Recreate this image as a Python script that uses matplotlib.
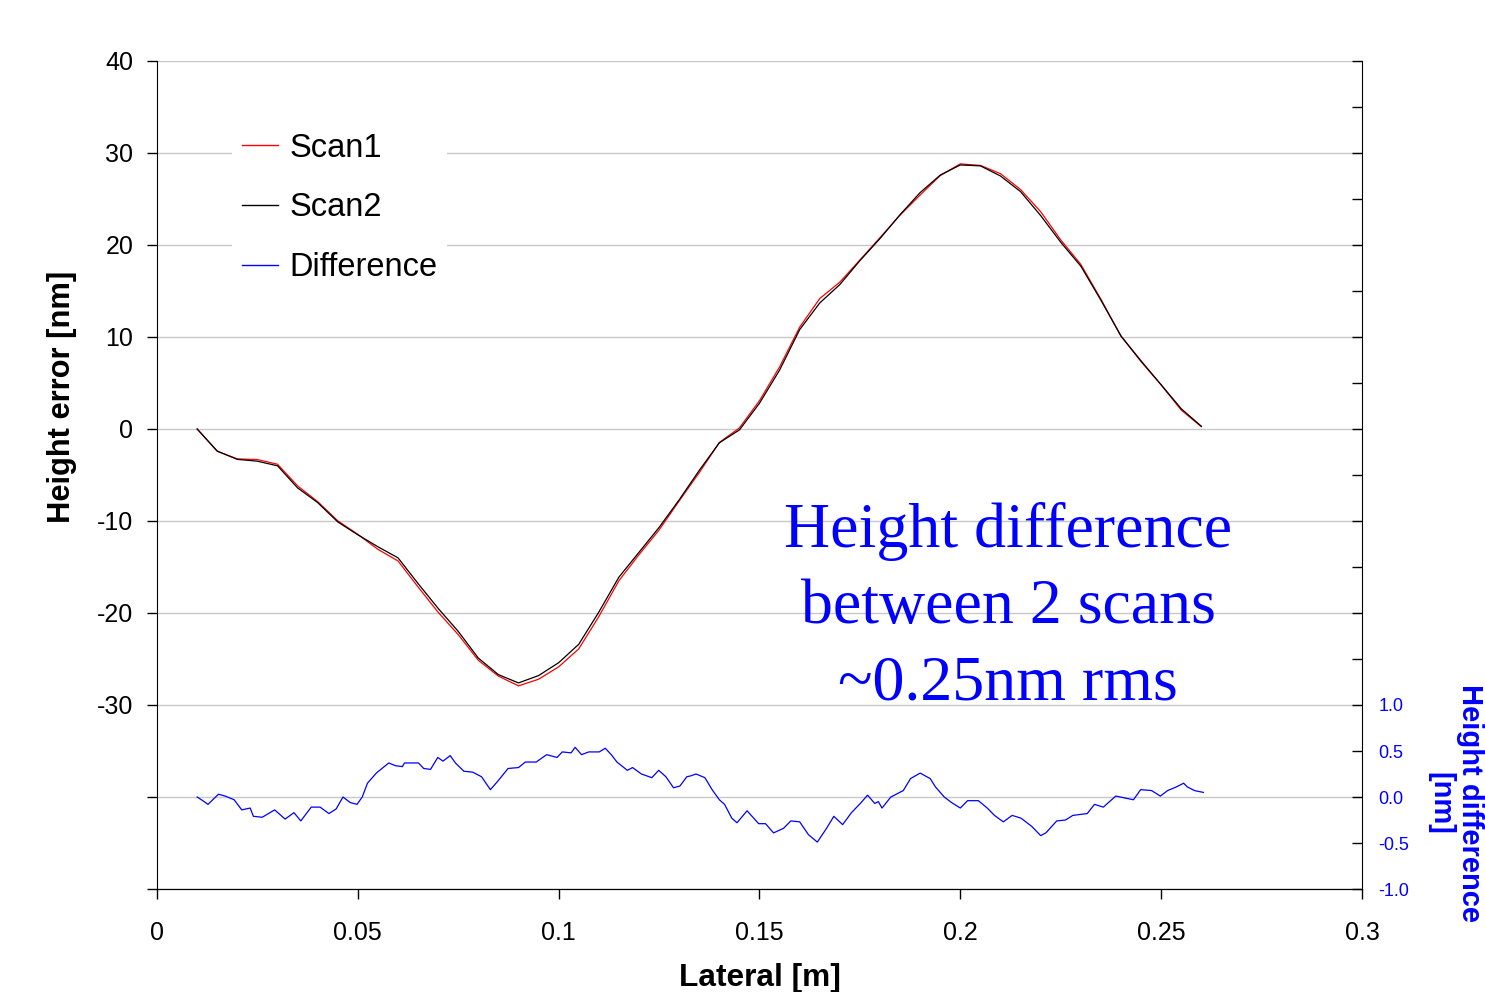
import matplotlib
matplotlib.use("Agg")
import matplotlib.pyplot as plt
import numpy as np

plt.rcParams['font.family'] = ['Liberation Sans', 'DejaVu Sans']

# lateral position [m] for the two scans
lateral = [0.010, 0.015, 0.020, 0.025, 0.030, 0.035, 0.040, 0.045, 0.050, 0.055,
           0.060, 0.065, 0.070, 0.075, 0.080, 0.085, 0.090, 0.095, 0.100, 0.105,
           0.110, 0.115, 0.120, 0.125, 0.130, 0.135, 0.140, 0.145, 0.150, 0.155,
           0.160, 0.165, 0.170, 0.175, 0.180, 0.185, 0.190, 0.195, 0.200, 0.205,
           0.210, 0.215, 0.220, 0.225, 0.230, 0.235, 0.240, 0.245, 0.250, 0.255,
           0.260]

scan1 = [0.0, -2.43, -3.25, -3.32, -3.83, -6.18, -7.89, -9.98, -11.45, -13.08,
         -14.34, -17.17, -19.92, -22.35, -25.14, -26.86, -27.92, -27.20, -25.85, -23.90,
         -20.39, -16.49, -13.66, -10.98, -7.82, -4.74, -1.47, 0.12, 3.08, 6.75,
         11.07, 14.18, 15.96, 18.37, 20.80, 23.25, 25.44, 27.55, 28.82, 28.65,
         27.75, 26.03, 23.62, 20.55, 17.89, 14.10, 10.10, 7.32, 4.79, 2.06,
         0.25]

scan2 = [0.0, -2.4, -3.3, -3.5, -4.0, -6.4, -8.0, -10.1, -11.5, -12.8,
         -14.0, -16.8, -19.5, -22.0, -24.9, -26.7, -27.6, -26.8, -25.4, -23.4,
         -19.9, -16.1, -13.4, -10.7, -7.7, -4.5, -1.5, -0.1, 2.8, 6.4,
         10.8, 13.7, 15.7, 18.3, 20.7, 23.3, 25.7, 27.6, 28.7, 28.6,
         27.5, 25.8, 23.2, 20.3, 17.7, 14.0, 10.1, 7.4, 4.8, 2.2,
         0.3]

# difference curve (right axis, nm)
diff_x = [0.0100, 0.0114, 0.0127, 0.0153, 0.0170, 0.0192, 0.0211, 0.0232, 0.0240, 0.0262,
          0.0293, 0.0319, 0.0341, 0.0358, 0.0384, 0.0406, 0.0428, 0.0446, 0.0463, 0.0481,
          0.0498, 0.0511, 0.0524, 0.0546, 0.0577, 0.0594, 0.0611, 0.0616, 0.0651, 0.0664,
          0.0681, 0.0699, 0.0712, 0.0730, 0.0743, 0.0764, 0.0786, 0.0808, 0.0830, 0.0848,
          0.0874, 0.0900, 0.0917, 0.0944, 0.0970, 0.0996, 0.1009, 0.1031, 0.1041, 0.1057,
          0.1075, 0.1101, 0.1116, 0.1131, 0.1145, 0.1171, 0.1184, 0.1206, 0.1232, 0.1249,
          0.1267, 0.1286, 0.1302, 0.1319, 0.1329, 0.1342, 0.1364, 0.1382, 0.1400, 0.1413,
          0.1431, 0.1444, 0.1469, 0.1498, 0.1515, 0.1535, 0.1560, 0.1578, 0.1600, 0.1622,
          0.1644, 0.1667, 0.1685, 0.1707, 0.1729, 0.1751, 0.1769, 0.1787, 0.1796, 0.1805,
          0.1827, 0.1858, 0.1876, 0.1900, 0.1925, 0.1938, 0.1960, 0.1978, 0.2000, 0.2018,
          0.2045, 0.2067, 0.2085, 0.2107, 0.2129, 0.2151, 0.2178, 0.2200, 0.2213, 0.2240,
          0.2262, 0.2280, 0.2316, 0.2334, 0.2356, 0.2387, 0.2431, 0.2449, 0.2476, 0.2498,
          0.2516, 0.2538, 0.2556, 0.2565, 0.2583, 0.2605]

difference = [0.00, -0.04, -0.08, 0.03, 0.01, -0.03, -0.14, -0.12, -0.21, -0.22,
              -0.14, -0.24, -0.17, -0.26, -0.11, -0.11, -0.18, -0.13, 0.00, -0.06,
              -0.08, 0.00, 0.15, 0.26, 0.37, 0.34, 0.33, 0.37, 0.37, 0.31,
              0.30, 0.43, 0.39, 0.45, 0.37, 0.28, 0.27, 0.22, 0.08, 0.17,
              0.31, 0.32, 0.38, 0.38, 0.46, 0.43, 0.49, 0.48, 0.54, 0.46,
              0.49, 0.49, 0.53, 0.46, 0.38, 0.29, 0.32, 0.25, 0.21, 0.29,
              0.22, 0.10, 0.12, 0.22, 0.23, 0.25, 0.21, 0.08, -0.03, -0.08,
              -0.23, -0.28, -0.15, -0.29, -0.29, -0.39, -0.34, -0.26, -0.27, -0.41,
              -0.49, -0.34, -0.21, -0.30, -0.17, -0.07, 0.02, -0.07, -0.05, -0.12,
              0.00, 0.07, 0.20, 0.26, 0.20, 0.11, 0.00, -0.06, -0.12, -0.04,
              -0.04, -0.12, -0.20, -0.27, -0.20, -0.23, -0.32, -0.42, -0.39, -0.26,
              -0.25, -0.20, -0.18, -0.08, -0.11, 0.01, -0.03, 0.08, 0.07, 0.01,
              0.07, 0.11, 0.15, 0.11, 0.07, 0.05]

x_ticks = [0, 0.05, 0.1, 0.15, 0.2, 0.25, 0.3]
x_tick_labels = ['0', '0.05', '0.1', '0.15', '0.2', '0.25', '0.3']
y_ticks = [-50, -40, -30, -20, -10, 0, 10, 20, 30, 40]
y_tick_labels = ['', '', '-30', '-20', '-10', '0', '10', '20', '30', '40']

fig = plt.figure(figsize=(14.85, 9.92), dpi=100)
ax = fig.add_axes([157 / 1485, 1 - 889 / 992, 1205 / 1485, 828 / 992])

ax.plot(lateral, scan1, color='#ff0000', lw=0.9, label='Scan1', zorder=3)
ax.plot(lateral, scan2, color='black', lw=0.9, label='Scan2', zorder=4)
ax.plot([], [], color='#0000ff', lw=0.9, label='Difference')

ax.set_xlim(0, 0.3)
ax.set_ylim(-50, 40)
ax.set_xticks(x_ticks)
ax.set_xticklabels(x_tick_labels)
ax.set_yticks(y_ticks)
ax.set_yticklabels(y_tick_labels)
ax.tick_params(axis='both', labelsize=18, length=7, width=1, direction='out')
ax.tick_params(axis='x', pad=16)
ax.tick_params(axis='y', pad=10)
ax.yaxis.grid(True, color='#c8c8c8', lw=1)
ax.set_axisbelow(True)
ax.spines['top'].set_visible(False)
ax.spines['right'].set_visible(False)

leg = ax.legend(loc='upper left', bbox_to_anchor=(0.049, 0.945), fontsize=23.5,
                frameon=True, framealpha=1, edgecolor='none', facecolor='white',
                handlelength=1.1, handletextpad=0.34, labelspacing=0.88,
                borderpad=0.3, fancybox=False)
for ln in leg.get_lines():
    ln.set_linewidth(1.0)

# right axis for the difference, aligned with the lower band of the plot
ax2 = ax.twinx()
ax2.plot(diff_x, difference, color='#0000ff', lw=0.9)
ax2.set_ylim(-1, 8)
rt = np.arange(-1, 8.01, 0.5)
ax2.set_yticks(rt)
ax2.set_yticklabels(['%.1f' % t if t <= 1.0 else '' for t in rt])
ax2.tick_params(axis='y', direction='in', length=7, width=1, labelsize=13,
                labelcolor='#0000ff', pad=12)
ax2.spines['top'].set_visible(False)
ax2.spines['left'].set_visible(False)

fig.text(62 / 1485, 1 - 397 / 992, 'Height error [nm]', rotation=90,
         ha='center', va='center', fontsize=22.2, fontweight='bold')
fig.text(760 / 1485, 1 - 978 / 992, 'Lateral [m]',
         ha='center', va='center', fontsize=22.8, fontweight='bold')
fig.text(1455 / 1485, 1 - 803 / 992, 'Height difference\n[nm]', rotation=270,
         ha='center', va='center', multialignment='center', fontsize=21,
         fontweight='bold', color='#0000ff', linespacing=1.1)

fig.text(1008 / 1485, 1 - 608 / 992, 'Height difference\nbetween 2 scans\n~0.25nm rms',
         ha='center', va='center', fontsize=46, color='#0000ff',
         family='Liberation Serif', linespacing=1.42)

fig.savefig('out.png', dpi=100)
